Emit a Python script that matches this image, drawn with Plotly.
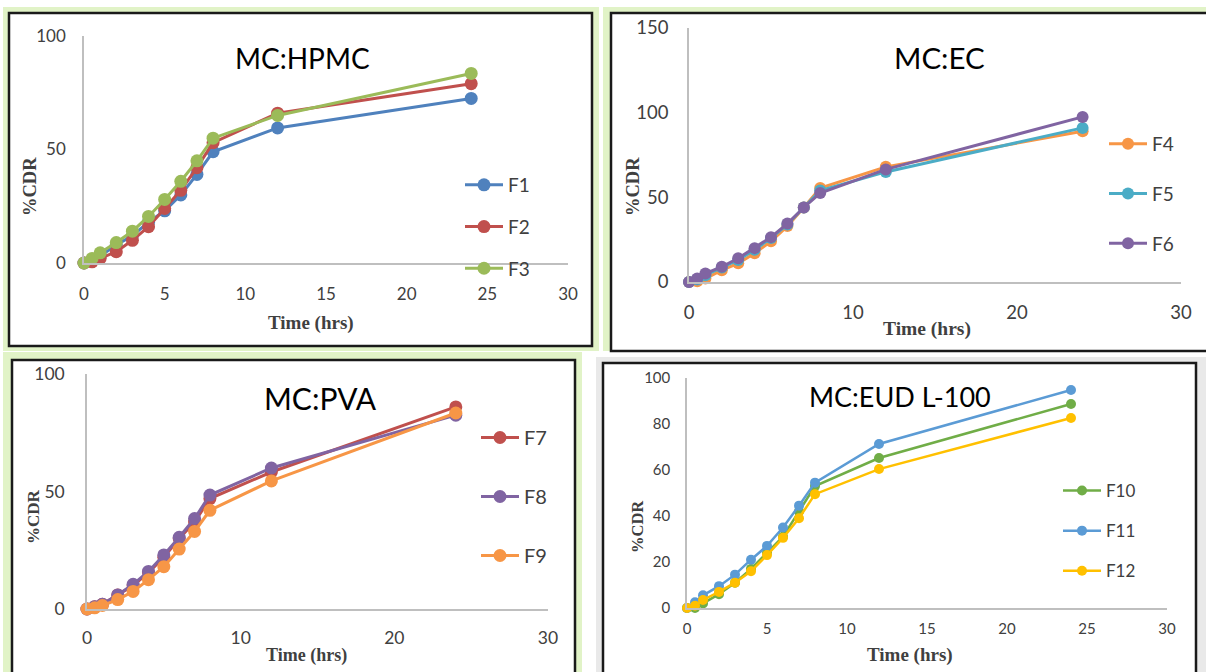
import plotly.graph_objects as go

W, H = 1206, 672

time_h = [0, 0.5, 1, 2, 3, 4, 5, 6, 7, 8, 12, 24]

# MC:HPMC
F1 = [0, 1, 3, 8, 12, 18, 23, 30, 39, 49, 59.5, 72.5]
F2 = [0, 0.5, 2, 5, 10, 16, 24, 32, 42, 53, 66, 79]
F3 = [0, 2, 4.5, 9, 14, 20.5, 28, 36, 45, 55, 65, 83.5]
# MC:EC
F4 = [0, 0.5, 2, 7, 11, 17, 24, 33, 44, 55.5, 68, 89]
F5 = [0, 1.5, 4, 8.5, 13, 19, 26, 34, 44, 54, 65, 91]
F6 = [0, 2, 5, 9, 14, 20, 26.5, 34.5, 44, 52.5, 66.5, 97.5]
# MC:PVA
F7 = [0, 1, 2, 6, 10, 15.5, 22, 30, 37, 47, 58.3, 86]
F8 = [0, 1, 2, 6, 10.5, 16, 23, 30.5, 38.5, 48.5, 60, 82.5]
F9 = [0, 0.5, 1.5, 4, 7.5, 12.5, 18, 25.5, 33, 42, 54.5, 83.4]
# MC:EUD L-100
F10 = [0, 0, 2, 6, 11, 17, 24, 31, 42, 53, 65.2, 88.7]
F11 = [0, 2.5, 5.5, 9.5, 14.5, 21, 27, 35, 44.5, 54.5, 71.3, 94.8]
F12 = [0, 1, 3.5, 7, 11, 16, 23, 30.5, 39, 49.5, 60.4, 82.6]

panel_titles = ["MC:HPMC", "MC:EC", "MC:PVA", "MC:EUD L-100"]
x_title = "Time (hrs)"
y_title = "%CDR"

series = [
    ("F1", F1, "#4f81bd", 1), ("F2", F2, "#c0504d", 1), ("F3", F3, "#9bbb59", 1),
    ("F4", F4, "#f79646", 2), ("F5", F5, "#4bacc6", 2), ("F6", F6, "#8064a2", 2),
    ("F7", F7, "#c0504d", 3), ("F8", F8, "#8064a2", 3), ("F9", F9, "#f79646", 3),
    ("F10", F10, "#70ad47", 4), ("F11", F11, "#5b9bd5", 4), ("F12", F12, "#ffc000", 4),
]

def px(x):
    return x / W

def py(y):
    return 1 - y / H

panels = {
    1: dict(x0=84, x1=568, y0=263, y1=36, yr=[0, 100], ydt=50, xdt=5, tf=17, msize=13, lw=3,
            xso=15, yso=13, lfont=19, lx=460, ly=166, gap=14),
    2: dict(x0=689, x1=1181, y0=282, y1=28, yr=[0, 150], ydt=50, xdt=10, tf=18.5, msize=12, lw=3,
            xso=13, yso=15, lfont=19, lx=1104, ly=125, gap=22),
    3: dict(x0=87, x1=548, y0=609, y1=374, yr=[0, 100], ydt=50, xdt=10, tf=17.5, msize=13, lw=3,
            xso=12, yso=17, lfont=20, lx=476, ly=418, gap=30),
    4: dict(x0=687, x1=1167, y0=608, y1=378, yr=[0, 100], ydt=20, xdt=5, tf=15, msize=10, lw=2.5,
            xso=6, yso=12, lfont=17, lx=1058, ly=473, gap=15),
}

fig = go.Figure()

for name, vals, color, p in series:
    sfx = "" if p == 1 else str(p)
    fig.add_trace(go.Scatter(
        x=time_h, y=vals, name=name, mode="lines+markers",
        line=dict(color=color, width=panels[p]["lw"]),
        marker=dict(color=color, size=panels[p]["msize"]),
        xaxis="x" + sfx, yaxis="y" + sfx, legend="legend" + sfx,
        legendgroup=name, cliponaxis=False,
    ))

layout = dict(
    width=W, height=H, margin=dict(l=0, r=0, t=0, b=0, pad=0, autoexpand=False),
    paper_bgcolor="white", plot_bgcolor="rgba(0,0,0,0)",
    showlegend=True, shapes=[], annotations=[],
)

GREEN = "#e1f3c7"
frames = [
    dict(type="rect", x0=px(3), x1=px(599), y0=py(351), y1=py(7), fillcolor=GREEN, line_width=0),
    dict(type="rect", x0=px(9), x1=px(592), y0=py(346), y1=py(13), fillcolor="white",
         line=dict(color="#1a1a1a", width=2.5)),
    dict(type="rect", x0=px(603), x1=px(1210), y0=py(351), y1=py(7), fillcolor=GREEN, line_width=0),
    dict(type="rect", x0=px(611), x1=px(1212), y0=py(351), y1=py(13), fillcolor="white",
         line=dict(color="#1a1a1a", width=2.5)),
    dict(type="rect", x0=px(3), x1=px(582), y0=py(680), y1=py(352), fillcolor=GREEN, line_width=0),
    dict(type="rect", x0=px(12), x1=px(575), y0=py(680), y1=py(360), fillcolor="white",
         line=dict(color="#1a1a1a", width=2.5)),
    dict(type="rect", x0=px(596), x1=px(1210), y0=py(680), y1=py(357), fillcolor="#e9e9e9", line_width=0),
    dict(type="rect", x0=px(603), x1=px(1196), y0=py(680), y1=py(363), fillcolor="white",
         line=dict(color="#1a1a1a", width=2.5)),
]
for f in frames:
    f.update(xref="paper", yref="paper", layer="below")
    layout["shapes"].append(f)

title_pos = {1: (302, 58, 28), 2: (939, 57, 29.5), 3: (320, 398, 30), 4: (900, 396, 27)}
xt_pos = {1: (311, 323, 19), 2: (927, 329, 19.5), 3: (306, 655, 18), 4: (910, 655, 19)}
yt_pos = {1: (30, 187, 18.5), 2: (633, 187, 18.5), 3: (33, 517, 17), 4: (637, 527, 16.5)}

for p, g in panels.items():
    sfx = "" if p == 1 else str(p)
    common = dict(showgrid=False, zeroline=False, showline=True, linecolor="#bfbfbf",
                  linewidth=1.5, ticks="", automargin=False,
                  tickfont=dict(family="Lato", size=g["tf"], color="#404040"))
    layout["xaxis" + sfx] = dict(
        domain=[px(g["x0"]), px(g["x1"])], range=[0, 30], dtick=g["xdt"], tick0=0,
        anchor="y" + sfx, ticklabelstandoff=g["xso"], fixedrange=True, **common)
    layout["yaxis" + sfx] = dict(
        domain=[py(g["y0"]), py(g["y1"])], range=g["yr"], dtick=g["ydt"], tick0=0,
        anchor="x" + sfx, ticklabelstandoff=g["yso"], fixedrange=True, **common)
    layout["legend" + sfx] = dict(
        x=px(g["lx"]), y=py(g["ly"]), xanchor="left", yanchor="top",
        bgcolor="rgba(0,0,0,0)", borderwidth=0, tracegroupgap=g["gap"], itemwidth=38,
        font=dict(family="Lato", size=g["lfont"], color="#404040"))
    tx, ty, ts = title_pos[p]
    layout["annotations"].append(dict(
        text=panel_titles[p - 1], x=px(tx), y=py(ty), xref="paper", yref="paper",
        xanchor="center", yanchor="middle",
        showarrow=False, font=dict(family="Lato", size=ts, color="black")))
    ax_, ay_, as_ = xt_pos[p]
    layout["annotations"].append(dict(
        text="<b>" + x_title + "</b>", x=px(ax_), y=py(ay_), xref="paper", yref="paper",
        xanchor="center", yanchor="middle",
        showarrow=False, font=dict(family="Liberation Serif", size=as_, color="#404040")))
    bx, by, bs = yt_pos[p]
    layout["annotations"].append(dict(
        text="<b>" + y_title + "</b>", x=px(bx), y=py(by), xref="paper", yref="paper",
        xanchor="center", yanchor="middle",
        showarrow=False, textangle=-90, font=dict(family="Liberation Serif", size=bs, color="#404040")))

fig.update_layout(**layout)
fig.write_html("out.html", config={"displayModeBar": False},
               post_script="document.body.style.margin='0px';")
